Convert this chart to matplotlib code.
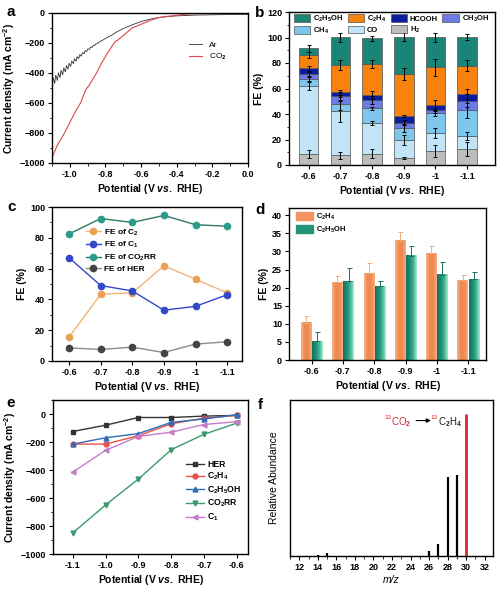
import numpy as np
import matplotlib
matplotlib.use("Agg")
import matplotlib.pyplot as plt
from matplotlib.colors import LinearSegmentedColormap
from matplotlib.patches import Patch
from matplotlib.ticker import MultipleLocator

plt.rcParams.update({
    "font.family": "Liberation Sans",
    "font.weight": "bold",
    "axes.labelweight": "bold",
    "axes.linewidth": 1.0,
    "axes.labelpad": 2,
    "font.size": 7,
    "mathtext.fontset": "custom",
    "mathtext.rm": "Liberation Sans:bold",
    "mathtext.it": "Liberation Sans:bold:italic",
    "mathtext.bf": "Liberation Sans:bold",
    "xtick.major.size": 3, "ytick.major.size": 3,
    "xtick.minor.size": 1.8, "ytick.minor.size": 1.8,
    "xtick.major.width": 0.8, "ytick.major.width": 0.8,
    "xtick.major.pad": 2, "ytick.major.pad": 2,
    "xtick.labelsize": 6.5, "ytick.labelsize": 6.5,
})

# ── a: LSV in Ar / CO2 ────────────────────────────────────────────────────────
co2_v = [-1.10, -1.07, -1.03, -1.00, -0.97, -0.94, -0.91, -0.89, -0.85, -0.82,
         -0.79, -0.76, -0.745, -0.73, -0.70, -0.67, -0.65, -0.62, -0.58, -0.55,
         -0.52, -0.49, -0.45, -0.40, -0.35, -0.30, -0.20, -0.10, 0.0]
co2_j = [-965, -880, -800, -730, -660, -600, -510, -480, -400, -330,
         -270, -215, -190, -180, -150, -120, -100, -85, -65, -50,
         -38, -28, -22, -15, -8, -4, -4, -3, -3]

# Ar curve: noisy (bubbling) part read as low/high pairs, then the smooth tail
ar_tooth_v = [-1.10, -1.085, -1.07, -1.055, -1.04, -1.025, -1.01, -0.995, -0.98,
              -0.965, -0.95, -0.935, -0.92, -0.905, -0.89, -0.875, -0.86, -0.845,
              -0.83, -0.815, -0.80, -0.785, -0.77]
ar_tooth_low = [-490, -470, -450, -431, -412, -393, -374, -356, -338,
                -321, -304, -288, -272, -257, -243, -229, -216, -204,
                -192, -181, -170, -160, -150]
ar_tooth_high = [-430, -414, -398, -382, -366, -350, -335, -320, -305,
                 -291, -277, -264, -251, -239, -227, -216, -205, -195,
                 -185, -176, -166, -157, -148]
ar_tail_v = [-0.74, -0.70, -0.65, -0.60, -0.55, -0.50, -0.45, -0.40, -0.30, -0.20, -0.10, 0.0]
ar_tail_j = [-128, -104, -79, -57, -41, -30, -24, -19, -14, -12, -10, -10]

# ── b/c/d: Faradaic efficiencies ─────────────────────────────────────────────
potentials = ["-0.6", "-0.7", "-0.8", "-0.9", "-1", "-1.1"]
fe_h2 = [8.5, 7.5, 9.0, 5.5, 11.0, 12.5]
fe_co = [53.5, 34.5, 24.0, 14.0, 14.0, 10.5]
fe_ch4 = [5.5, 6.0, 11.5, 9.5, 15.5, 20.0]
fe_ch3oh = [3.5, 6.0, 6.5, 4.0, 2.5, 7.5]
fe_hcooh = [5.0, 3.0, 4.0, 5.5, 4.0, 5.5]
fe_c2h4 = [10.3, 21.5, 24.0, 33.0, 29.5, 22.0]
fe_c2h5oh = [5.2, 21.8, 20.4, 28.8, 23.6, 22.3]

err_h2 = [3.0, 2.5, 3.5, 1.0, 5.0, 5.5]
err_co = [3.0, 8.0, 1.5, 4.0, 4.0, 3.0]
err_ch4 = [2.0, 5.0, 1.0, 3.0, 2.0, 6.0]
err_ch3oh = [2.0, 3.0, 3.0, 2.0, 2.0, 5.0]
err_hcooh = [2.0, 2.0, 3.0, 1.0, 4.0, 4.0]
err_c2h4 = [2.5, 4.0, 3.0, 4.5, 7.0, 4.5]
err_c2h5oh = [3.0, 3.5, 2.0, 3.0, 3.5, 2.5]

fe_c2 = [15.5, 43.3, 44.3, 61.8, 53.1, 44.3]
fe_c1 = [67.0, 49.0, 45.5, 33.0, 35.5, 43.0]
fe_co2rr = [82.5, 92.5, 90.0, 94.5, 88.5, 87.5]
fe_her = [8.5, 7.5, 9.0, 5.5, 11.0, 12.5]

d_err_c2h4 = [1.8, 1.8, 2.8, 2.5, 2.0, 1.5]
d_err_c2h5oh = [2.6, 3.5, 1.5, 2.8, 3.6, 2.1]

# ── e: partial current densities ─────────────────────────────────────────────
e_pot = [-1.1, -1.0, -0.9, -0.8, -0.7, -0.6]
j_her = [-125, -80, -25, -25, -15, -10]
j_c2h4 = [-215, -215, -155, -70, -30, -10]
j_c2h5oh = [-215, -170, -140, -60, -35, -5]
j_co2rr = [-850, -650, -465, -255, -145, -65]
j_c1 = [-415, -260, -160, -130, -75, -55]

# ── f: mass spectrum ─────────────────────────────────────────────────────────
ms_mz = [14, 15, 26, 27, 28, 29]
ms_abund = [0.005, 0.019, 0.035, 0.084, 0.556, 0.57]
ms_label_mz = 30
ms_label_abund = 1.0

W, H = 501, 597
fig = plt.figure(figsize=(W / 100, H / 100), dpi=100)


def add_ax(l, t, r, b):
    return fig.add_axes([l / W, 1 - b / H, (r - l) / W, (b - t) / H])


pot_label = r"Potential (V $\mathit{vs.}$ RHE)"
j_label = r"Current density (mA cm$^{-2}$)"
LFS = 7.5

# ── Panel a ──────────────────────────────────────────────────────────────────
ax = add_ax(52, 13, 248, 163)
ar_v, ar_j = [], []
for v, lo, hi in zip(ar_tooth_v, ar_tooth_low, ar_tooth_high):
    ar_v += [v, v + 0.006]
    ar_j += [lo, hi]
ar_v += ar_tail_v
ar_j += ar_tail_j
ax.plot(ar_v, ar_j, color="#333333", lw=0.6, label="Ar")
ax.plot(co2_v, co2_j, color="#E0474C", lw=0.8, label="CO$_2$")
ax.set_xlim(-1.1, 0)
ax.set_ylim(-1000, 0)
ax.xaxis.set_major_locator(MultipleLocator(0.2))
ax.xaxis.set_minor_locator(MultipleLocator(0.1))
ax.yaxis.set_major_locator(MultipleLocator(200))
ax.yaxis.set_minor_locator(MultipleLocator(100))
ax.xaxis.set_major_formatter(lambda x, p: f"{x:.1f}")
ax.set_xlabel(pot_label, fontsize=LFS)
ax.set_ylabel(j_label, fontsize=LFS)
ax.legend(loc="upper left", bbox_to_anchor=(0.66, 0.86), frameon=False,
          handlelength=1.6, labelspacing=0.3,
          prop={"weight": "normal", "size": 6})

# ── Panel b ──────────────────────────────────────────────────────────────────
ax = add_ax(289, 12, 495, 165)
x = np.arange(len(potentials))
stack = [("H$_2$", fe_h2, err_h2, "#BDBDBD"),
         ("CO", fe_co, err_co, "#C2E4F7"),
         ("CH$_4$", fe_ch4, err_ch4, "#7FC6EC"),
         ("CH$_3$OH", fe_ch3oh, err_ch3oh, "#6C7BE6"),
         ("HCOOH", fe_hcooh, err_hcooh, "#0B1E9E"),
         ("C$_2$H$_4$", fe_c2h4, err_c2h4, "#F7820E"),
         ("C$_2$H$_5$OH", fe_c2h5oh, err_c2h5oh, "#1A8577")]
bottom = np.zeros(len(x))
handles = {}
for name, vals, err, col in stack:
    vals = np.array(vals)
    handles[name] = ax.bar(x, vals, 0.62, bottom=bottom, color=col,
                           edgecolor="#555555", lw=0.5, label=name, zorder=2)
    top = bottom + vals
    ax.errorbar(x, top, yerr=err, fmt="none", ecolor="black", elinewidth=0.7,
                capsize=1.6, capthick=0.7, zorder=3)
    bottom = top
ax.set_xlim(-0.62, 5.88)
ax.set_ylim(0, 120)
ax.set_xticks(x)
ax.set_xticklabels(potentials)
ax.yaxis.set_major_locator(MultipleLocator(20))
ax.yaxis.set_minor_locator(MultipleLocator(10))
ax.set_xlabel(pot_label, fontsize=LFS)
ax.set_ylabel("FE (%)", fontsize=LFS)
order = ["C$_2$H$_5$OH", "CH$_4$", "C$_2$H$_4$", "CO", "HCOOH", "H$_2$", "CH$_3$OH"]
ax.legend([handles[k] for k in order], order, ncol=4, loc="upper left",
          bbox_to_anchor=(0.0, 1.02), frameon=False, fontsize=5.5,
          handlelength=2.2, handleheight=1.1, columnspacing=0.6,
          handletextpad=0.3, labelspacing=0.25, borderaxespad=0.2)

# ── Panel c ──────────────────────────────────────────────────────────────────
ax = add_ax(52, 207, 242, 361)
lines_c = [("FE of C$_2$", fe_c2, "#F2B47A", "#E9A255"),
           ("FE of C$_1$", fe_c1, "#3347C9", "#3347C9"),
           ("FE of CO$_2$RR", fe_co2rr, "#2F7A5C", "#2A9C8C"),
           ("FE of HER", fe_her, "#8C8C8C", "#444444")]
for name, vals, lc, mc in lines_c:
    ax.plot(x, vals, color=lc, lw=1.0, marker="o", ms=4.5, mfc=mc,
            mec=mc, label=name)
ax.set_xlim(-0.54, 5.47)
ax.set_ylim(0, 100)
ax.set_xticks(x)
ax.set_xticklabels(potentials)
ax.yaxis.set_major_locator(MultipleLocator(20))
ax.yaxis.set_minor_locator(MultipleLocator(10))
ax.set_xlabel(pot_label, fontsize=LFS)
ax.set_ylabel("FE (%)", fontsize=LFS)
ax.legend(loc="upper left", bbox_to_anchor=(0.15, 0.9), frameon=False,
          fontsize=6, handlelength=1.9, labelspacing=0.3, handletextpad=0.3,
          borderaxespad=0.2)

# ── Panel d ──────────────────────────────────────────────────────────────────
ax = add_ax(289, 208, 486, 360)
cmap_or = LinearSegmentedColormap.from_list("or", ["#F9B488", "#EE8A4F", "#EF8A50", "#F7AE80"])
cmap_te = LinearSegmentedColormap.from_list("te", ["#15705F", "#1E8B72", "#3FB290", "#A6EDD4"])
grad = np.linspace(0, 1, 64).reshape(1, -1)
bw = 0.32
for xi, h, h2 in zip(x, fe_c2h4, fe_c2h5oh):
    ax.imshow(grad, extent=[xi - 0.18 - bw / 2, xi - 0.18 + bw / 2, 0, h],
              aspect="auto", cmap=cmap_or, zorder=2, interpolation="bilinear")
    ax.imshow(grad, extent=[xi + 0.18 - bw / 2, xi + 0.18 + bw / 2, 0, h2],
              aspect="auto", cmap=cmap_te, zorder=2, interpolation="bilinear")
ax.errorbar(x - 0.18, fe_c2h4, yerr=[np.zeros(6), d_err_c2h4], fmt="none",
            ecolor="#F0B080", elinewidth=0.7, capsize=1.8, capthick=0.7, zorder=3)
ax.errorbar(x + 0.18, fe_c2h5oh, yerr=[np.zeros(6), d_err_c2h5oh], fmt="none",
            ecolor="#1E6E60", elinewidth=0.7, capsize=1.8, capthick=0.7, zorder=3)
ax.set_xlim(-0.72, 5.57)
ax.set_ylim(0, 42)
ax.set_xticks(x)
ax.set_xticklabels(potentials)
ax.yaxis.set_major_locator(MultipleLocator(5))
ax.set_xlabel(pot_label, fontsize=LFS)
ax.set_ylabel("FE (%)", fontsize=LFS)
ax.legend([Patch(color="#F29460"), Patch(color="#23967A")],
          ["C$_2$H$_4$", "C$_2$H$_5$OH"], loc="upper left",
          bbox_to_anchor=(0.0, 1.02), frameon=False, fontsize=5.5,
          handlelength=2.2, handleheight=1.2, labelspacing=0.3, handletextpad=0.4)

# ── Panel e ──────────────────────────────────────────────────────────────────
ax = add_ax(53, 400, 248, 554)
lines_e = [("HER", j_her, "#333333", "s"),
           ("C$_2$H$_4$", j_c2h4, "#E5504B", "o"),
           ("C$_2$H$_5$OH", j_c2h5oh, "#2F6DB5", "^"),
           ("CO$_2$RR", j_co2rr, "#3A9A6E", "v"),
           ("C$_1$", j_c1, "#C67CCB", "<")]
for name, vals, col, m in lines_e:
    ax.plot(e_pot, vals, color=col, lw=1.0, marker=m, ms=3.5, label=name)
ax.set_xlim(-1.16, -0.566)
ax.set_ylim(-1000, 100)
ax.xaxis.set_major_locator(MultipleLocator(0.1))
ax.xaxis.set_major_formatter(lambda v, p: f"{v:.1f}")
ax.yaxis.set_major_locator(MultipleLocator(200))
ax.yaxis.set_minor_locator(MultipleLocator(100))
ax.set_xlabel(pot_label, fontsize=LFS)
ax.set_ylabel(j_label, fontsize=LFS)
ax.legend(loc="lower left", bbox_to_anchor=(0.64, 0.15), frameon=False,
          fontsize=6.2, handlelength=2.2, labelspacing=0.25, handletextpad=0.3)

# ── Panel f ──────────────────────────────────────────────────────────────────
ax = add_ax(290, 400, 493, 556)
ax.vlines(ms_mz, 0, ms_abund, color="black", lw=1.6)
ax.vlines([ms_label_mz], 0, [ms_label_abund], color="#E0262B", lw=2.0)
ax.set_xlim(11, 32.9)
ax.set_ylim(0, 1.1)
ax.set_yticks([])
ax.xaxis.set_major_locator(MultipleLocator(2))
ax.xaxis.set_minor_locator(MultipleLocator(1))
ax.set_xlabel("m/z", fontsize=LFS, fontstyle="italic", fontweight="normal")
ax.set_ylabel("Relative Abundance", fontsize=LFS, fontweight="normal", labelpad=8)
ax.text(21.9, 0.975, "13", color="#E0262B", fontsize=4.5, ha="right", va="center", fontweight="normal")
ax.text(21.9, 0.945, "CO$_2$", color="#C0303A", fontsize=7, ha="left", va="center", fontweight="normal")
ax.annotate("", xy=(26.5, 0.955), xytext=(24.3, 0.955),
            arrowprops=dict(arrowstyle="-|>", color="black", lw=0.8, mutation_scale=6))
ax.text(26.95, 0.975, "13", color="#E0262B", fontsize=4.5, ha="right", va="center", fontweight="normal")
ax.text(26.95, 0.945, "C$_2$H$_4$", color="#222222", fontsize=7, ha="left", va="center", fontweight="normal")

# panel letters
for letter, px, py in [("a", 11, 12), ("b", 260, 13), ("c", 12, 207),
                       ("d", 260, 210), ("e", 11, 403), ("f", 260, 405)]:
    fig.text(px / W, 1 - py / H, letter, fontsize=11, fontweight="bold",
             ha="center", va="center")

fig.savefig("out.png", dpi=100)
